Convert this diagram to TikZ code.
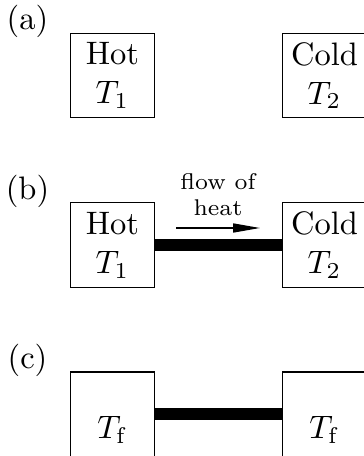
\documentclass[tikz,border=0pt]{standalone}
\usepackage{amsmath}
\usetikzlibrary{arrows.meta,positioning}
\tikzset{
	body/.style={draw, line width=0.31pt, minimum size=25.85pt, inner sep=0pt, align=center},
	panel/.style={anchor=base, inner sep=0pt},
	rod/.style={line width=3.4pt},
	flowtext/.style={anchor=south, inner sep=0pt, align=center, font=\scriptsize},
}
\begin{document}
\begin{tikzpicture}[x=0.3077pt,y=-0.3077pt]
	\useasboundingbox (0,0) rectangle (363,456);
%
	\node[panel] (la) at (27.5,29.5) {(a)};
	\node[body] (hota) at (112.5,75.5) {Hot\\$T_1$};
	\node[body] (colda) at (324.5,75.5) {Cold\\$T_2$};
%
	\node[panel] (lb) at (27.5,199.5) {(b)};
	\node[body] (hotb) at (112.5,245) {Hot\\$T_1$};
	\node[body] (coldb) at (324.5,245) {Cold\\$T_2$};
	\draw[rod] (hotb.east) -- (coldb.west);
	\node[flowtext] (flow) at (218,216.7) {flow of\\heat};
	\coordinate (tail) at (176,228);
	\coordinate (tip) at (260,228);
	\draw[line width=0.4pt, -{Triangle[length=8.3pt,width=2.8pt]}] (tail) -- (tip);
%
	\node[panel] (lc) at (27.5,368.5) {(c)};
	\node[body] (hotc) at (112.5,414) {\vphantom{o}\\$T_\mathrm{f}$};
	\node[body] (coldc) at (324.5,414) {\vphantom{o}\\$T_\mathrm{f}$};
	\draw[rod] (hotc.east) -- (coldc.west);
%
\end{tikzpicture}
\end{document}
